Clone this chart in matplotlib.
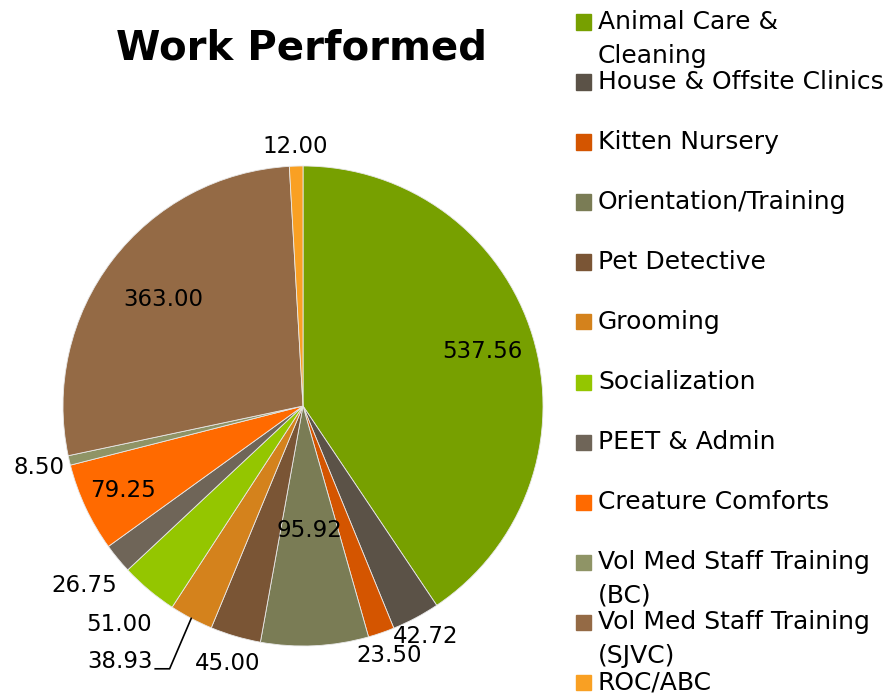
import numpy as np
import matplotlib
matplotlib.use("Agg")
from matplotlib import pyplot as plt
from matplotlib.patches import Rectangle

plt.rcParams['font.family'] = ['DejaVu Sans']

categories = ['Animal Care &\nCleaning', 'House & Offsite Clinics', 'Kitten Nursery',
              'Orientation/Training', 'Pet Detective', 'Grooming', 'Socialization',
              'PEET & Admin', 'Creature Comforts', 'Vol Med Staff Training\n(BC)',
              'Vol Med Staff Training\n(SJVC)', 'ROC/ABC']
hours = [537.56, 42.72, 23.50, 95.92, 45.00, 38.93, 51.00, 26.75, 79.25, 8.50, 363.00, 12.00]
colors = ['#77A000', '#5B5247', '#D45500', '#7A7C55', '#7A5535', '#D4821C',
          '#94C600', '#6F6558', '#FF6A00', '#8F9466', '#946A45', '#F9A023']

# label distance from centre (fraction of radius) for each slice
label_r = [0.78, 1.09, 1.10, 0.52, 1.12, None, 1.19, 1.18, 0.83, 1.13, 0.73, 1.08]

fig = plt.figure(figsize=(8.86, 6.94), dpi=100)
W, H = 886, 694
cx, cy, R = 303, 406, 240
half = 1.25 * R
ax = fig.add_axes([(cx - half) / W, (H - cy - half) / H, 2 * half / W, 2 * half / H])
ax.set_xlim(-1.25, 1.25)
ax.set_ylim(-1.25, 1.25)
ax.set_aspect('equal')
ax.axis('off')

wedges, _ = ax.pie(hours, colors=colors, startangle=90, counterclock=False, radius=1,
                   wedgeprops=dict(edgecolor='#e8e8e8', linewidth=0.6))

for w, v, r in zip(wedges, hours, label_r):
    mid = np.deg2rad((w.theta1 + w.theta2) / 2)
    txt = f"{v:.2f}"
    if r is None:
        # leader line label
        ex, ey = np.cos(mid), np.sin(mid)
        kx, ky = ex - 0.09, -1.095
        ax.plot([ex, kx, kx - 0.06], [ey, ky, ky], color='black', lw=1.2, clip_on=False)
        ax.text(kx - 0.07, ky + 0.03, txt, ha='right', va='center', fontsize=16.5)
        continue
    ax.text(r * np.cos(mid), r * np.sin(mid), txt, ha='center', va='center', fontsize=16.5)

fig.text(302 / W, 1 - 48 / H, 'Work Performed', ha='center', va='center',
         fontsize=29, fontweight='bold')

# legend
for i, (lab, c) in enumerate(zip(categories, colors)):
    y = 22 + 60 * i
    fig.patches.append(Rectangle((576 / W, 1 - (y + 7.5) / H), 15 / W, 15 / H,
                                 color=c, transform=fig.transFigure))
    for k, line in enumerate(lab.split('\n')):
        fig.text(598 / W, 1 - (y + 34 * k) / H, line, ha='left', va='center', fontsize=18)

fig.savefig('out.png', dpi=100)
